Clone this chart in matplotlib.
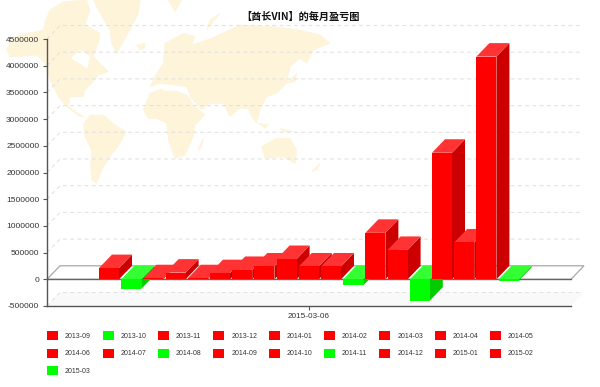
import matplotlib
matplotlib.use("Agg")
import matplotlib.pyplot as plt
from matplotlib.patches import Polygon, Patch

months = ["2013-09","2013-10","2013-11","2013-12","2014-01","2014-02","2014-03","2014-04","2014-05","2014-06",
          "2014-07","2014-08","2014-09","2014-10","2014-11","2014-12","2015-01","2015-02","2015-03"]
profit = [210000,-180000,20000,125000,20000,115000,175000,240000,380000,240000,
          240000,-115000,870000,550000,-400000,2370000,690000,4170000,-30000]
y_ticks = list(range(-500000, 4500001, 500000))
date_label = "2015-03-06"

FONT = ["Liberation Sans", "DejaVu Sans"]
W, H = 600, 387
fig = plt.figure(figsize=(6, 3.87), dpi=100, facecolor="white")

# decorative world map backdrop, in zoomed-pixel outline coordinates
bg = fig.add_axes([0, 0, 1, 1], zorder=0)
bg.set_xlim(0, W); bg.set_ylim(H, 0); bg.axis("off")
left_shapes = [
 [(20,150),(30,125),(60,105),(130,90),(135,65),(150,30),(190,5),(260,0),(270,30),(255,75),(300,100),(295,130),(280,170),(300,190),(325,215),(295,225),(275,250),(255,270),(250,290),(210,290),(205,320),(250,350),(240,350),(200,320),(175,290),(150,240),(135,190),(110,165),(60,170),(30,170)],
 [(280,0),(420,0),(415,40),(390,90),(350,160),(335,130),(330,90),(300,40)],
 [(410,135),(435,130),(435,145),(420,150)],
 [(250,375),(270,345),(310,345),(345,375),(378,395),(360,430),(330,470),(305,510),(290,550),(275,540),(272,500),(275,450),(255,410)],
 [(505,0),(545,0),(525,35)],
]
right_shapes = [
 [(10,330),(30,280),(80,262),(140,285),(165,320),(195,345),(165,375),(160,410),(135,465),(105,475),(85,420),(80,370),(50,355),(25,355)],
 [(175,445),(190,415),(185,440),(178,450)],
 [(30,260),(50,220),(70,190),(75,130),(130,100),(165,110),(155,135),(215,115),(300,75),(400,80),(480,90),(540,105),(570,130),(520,150),(500,190),(480,175),(450,200),(440,250),(410,280),(380,290),(360,330),(350,370),(335,350),(325,325),(300,325),(270,350),(250,310),(210,310),(185,330),(150,290),(140,260),(100,255),(60,250)],
 [(440,250),(470,220),(465,245)],
 [(355,370),(385,375),(375,385)],
 [(420,385),(460,395),(430,395)],
 [(365,440),(410,415),(450,415),(470,450),(465,490),(430,470),(375,475)],
 [(515,515),(540,490),(530,510)],
 [(200,90),(240,40),(210,60)],
]
MAP = "#fdf4da"
for s in left_shapes:
    bg.add_patch(Polygon([(x/3, y/3) for x, y in s], fc=MAP, ec=MAP, lw=0.5))
for s in right_shapes:
    bg.add_patch(Polygon([(x/3+140, y/3) for x, y in s], fc=MAP, ec=MAP, lw=0.5))
bg.add_patch(Polygon([(x/3, y/3) for x, y in [(215,175),(240,150),(270,170),(260,205),(240,190)]], fc="white", ec="white", lw=0.5))
bg.add_patch(Polygon([(x/3+140, y/3) for x, y in [(60,262),(100,258),(140,268),(150,285),(110,272),(70,270)]], fc="white", ec="white", lw=0.5))

# main axes
ax = fig.add_axes([47/W, (H-306)/H, 524/W, 267/H], zorder=1)
ax.patch.set_alpha(0)
PX_X = 22.2
ax.set_xlim((47-109)/PX_X, (571-109)/PX_X)
ax.set_ylim(-500000, 4500000)
dx = 13/PX_X
dy = 13.5*5000000/267
bw = 20/PX_X
x_left, x_right = ax.get_xlim()

# back wall grid
for v in y_ticks:
    ax.plot([x_left, x_left+dx, x_right+dx*0.8], [v, v+dy, v+dy], color="#e2e2e2", lw=0.8,
            ls=(0, (3.5, 3)), clip_on=False, zorder=1)

# lower band and floor
ax.add_patch(Polygon([(x_left,-500000),(x_left+dx,-500000+dy),(x_right+dx,-500000+dy),(x_right,-500000)],
                     fc="#f9f9f9", ec="none", clip_on=False, zorder=0.5))
ax.add_patch(Polygon([(x_left,0),(x_left+dx,dy),(x_right+dx,dy),(x_right,0)],
                     fc="white", ec="#aaaaaa", lw=0.9, clip_on=False, zorder=2))
ax.plot([x_left, x_right], [0, 0], color="#666666", lw=1, clip_on=False, zorder=2.1)

# 3D bars, painted left to right
for i, v in enumerate(profit):
    front, top, side = ("#ff0000", "#ff3333", "#cc0000") if v >= 0 else ("#00ff00", "#33ff33", "#00cc00")
    z = 3 + i*0.1
    l, r = i-bw/2, i+bw/2
    h = max(v, 0)
    ax.bar(i, v, width=bw, color=front, zorder=z+0.02, clip_on=False)
    ax.add_patch(Polygon([(r,h),(r+dx,h+dy),(r+dx,v+dy),(r,v)] if v < 0 else [(r,0),(r+dx,dy),(r+dx,v+dy),(r,v)],
                         fc=side, ec="none", zorder=z, clip_on=False))
    ax.add_patch(Polygon([(l,h),(l+dx,h+dy),(r+dx,h+dy),(r,h)], fc=top, ec="none", zorder=z+0.01, clip_on=False))

for s in ("top", "right"):
    ax.spines[s].set_visible(False)
for s in ("left", "bottom"):
    ax.spines[s].set_color("#555555")
    ax.spines[s].set_linewidth(1)
ax.set_yticks(y_ticks)
ax.set_yticklabels([str(v) for v in y_ticks], fontsize=6.0, family=FONT, color="#333333")
ax.set_xticks([9])
ax.set_xticklabels([date_label], fontsize=5.9, family=FONT, color="#333333")
ax.tick_params(axis="both", length=3, width=0.8, color="#555555", pad=2)
ax.tick_params(axis="y", pad=2.6)

fig.text(300/W, 1-17/H, "【酋长VIN】的每月盈亏图", ha="center", va="center", fontsize=7.3, fontweight="bold",
         family=["Noto Sans CJK SC", "DejaVu Sans"], color="#111111")

# legend, filled column-wise so rows read chronologically
ncol = 9
handles = [Patch(fc="#ff0000" if v >= 0 else "#00ff00", ec="none", label=m) for m, v in zip(months, profit)]
nrows = 3
order = []
for c in range(ncol):
    for r in range(nrows):
        k = r*ncol + c
        if k < len(handles):
            order.append(handles[k])
leg = fig.legend(handles=order, ncol=ncol, loc="upper left", bbox_to_anchor=(47/W, 1-331/H), frameon=False,
                 prop={"family": "Liberation Sans", "size": 5}, handlelength=1.6, handleheight=1.6,
                 handletextpad=1.0, columnspacing=1.65, labelspacing=1.25, borderpad=0, borderaxespad=0)
for t in leg.get_texts():
    t.set_color("#333333")

fig.savefig("out.png", dpi=100, facecolor="white")
